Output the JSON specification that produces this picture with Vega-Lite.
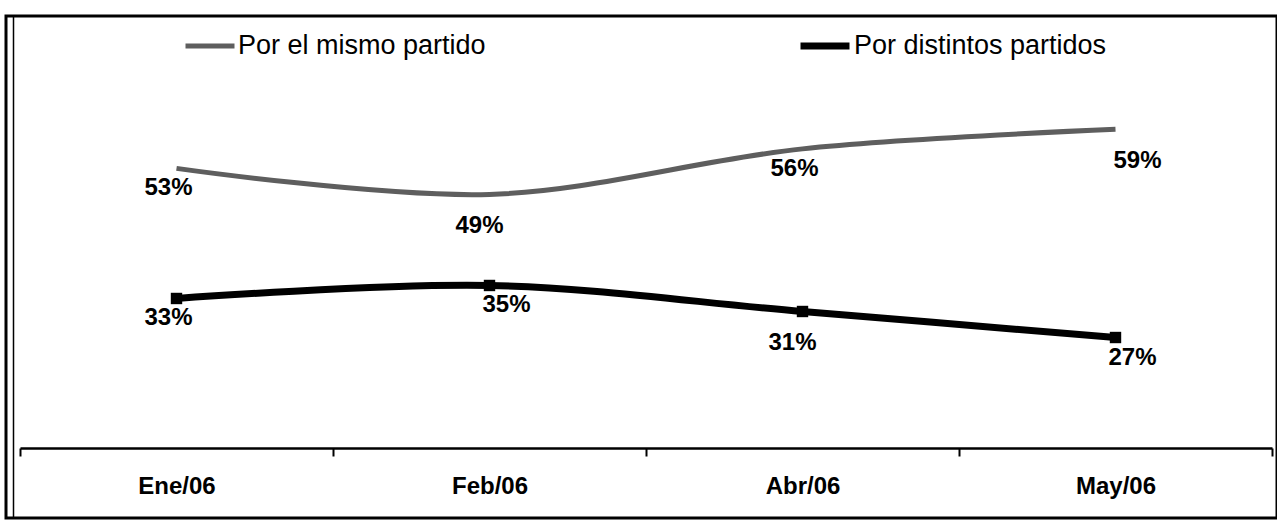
{
  "$schema": "https://vega.github.io/schema/vega-lite/v6.json",
  "width": 1271,
  "height": 502,
  "autosize": {"type": "none"},
  "padding": {"left": 6, "top": 16, "right": 0, "bottom": 3},
  "background": "white",
  "config": {
    "view": {"stroke": "black", "strokeWidth": 3},
    "font": "Liberation Sans"
  },
  "data": {
    "values": [
      {"month": "Ene/06", "series": "Por el mismo partido", "value": 0.53},
      {"month": "Feb/06", "series": "Por el mismo partido", "value": 0.49},
      {"month": "Abr/06", "series": "Por el mismo partido", "value": 0.56},
      {"month": "May/06", "series": "Por el mismo partido", "value": 0.59},
      {"month": "Ene/06", "series": "Por distintos partidos", "value": 0.33},
      {"month": "Feb/06", "series": "Por distintos partidos", "value": 0.35},
      {"month": "Abr/06", "series": "Por distintos partidos", "value": 0.31},
      {"month": "May/06", "series": "Por distintos partidos", "value": 0.27}
    ]
  },
  "encoding": {
    "x": {
      "field": "month",
      "type": "nominal",
      "sort": ["Ene/06", "Feb/06", "Abr/06", "May/06"],
      "scale": {"type": "band", "range": [14, 1266], "paddingInner": 0, "paddingOuter": 0},
      "axis": {
        "title": null,
        "labelAngle": 0,
        "labelFontSize": 24,
        "labelFontWeight": "bold",
        "labelColor": "black",
        "labelFont": "Liberation Sans",
        "labelPadding": 18,
        "domainColor": "black",
        "domainWidth": 2.5,
        "tickColor": "black",
        "tickWidth": 2,
        "tickSize": 8,
        "tickBand": "extent",
        "grid": false,
        "offset": -70
      }
    },
    "y": {
      "field": "value",
      "type": "quantitative",
      "scale": {"domain": [-0.0075, 0.7643], "nice": false, "zero": false},
      "axis": {
        "title": null,
        "labels": false,
        "ticks": false,
        "grid": false,
        "domain": true,
        "domainColor": "black",
        "domainWidth": 1.5,
        "offset": -7
      }
    }
  },
  "layer": [
    {
      "mark": {"type": "line", "interpolate": "catmull-rom"},
      "encoding": {
        "color": {
          "field": "series",
          "type": "nominal",
          "scale": {"domain": ["Por el mismo partido", "Por distintos partidos"], "range": ["#5e5e5e", "#000000"]},
          "legend": {
            "title": null,
            "orient": "none",
            "direction": "horizontal",
            "legendX": 177,
            "legendY": 2,
            "symbolType": "stroke",
            "symbolSize": 2400,
            "symbolStrokeWidth": 5,
            "labelFontSize": 27,
            "labelFont": "Liberation Sans",
            "labelColor": "black",
            "labelLimit": 0,
            "labelOffset": 1,
            "columnPadding": 300,
            "padding": 0
          }
        },
        "strokeWidth": {
          "field": "series",
          "type": "nominal",
          "scale": {"domain": ["Por el mismo partido", "Por distintos partidos"], "range": [5, 7]},
          "legend": null
        }
      }
    },
    {
      "transform": [{"filter": "datum.series === 'Por distintos partidos'"}],
      "mark": {"type": "point", "shape": "square", "filled": true, "color": "black", "size": 130, "opacity": 1}
    },
    {
      "transform": [{"filter": "(datum.month === 'Ene/06') || (datum.month === 'Abr/06' && datum.series === 'Por el mismo partido')"}],
      "mark": {"type": "text", "fontSize": 24, "fontWeight": "bold", "font": "Liberation Sans", "color": "black", "baseline": "middle", "align": "center", "dx": -8, "dy": 20},
      "encoding": {"text": {"field": "value", "type": "quantitative", "format": ".0%"}}
    },
    {
      "transform": [{"filter": "(datum.month === 'Feb/06' || datum.month === 'May/06') && datum.series === 'Por distintos partidos'"}],
      "mark": {"type": "text", "fontSize": 24, "fontWeight": "bold", "font": "Liberation Sans", "color": "black", "baseline": "middle", "align": "center", "dx": 17, "dy": 20},
      "encoding": {"text": {"field": "value", "type": "quantitative", "format": ".0%"}}
    },
    {
      "transform": [{"filter": "(datum.month === 'Feb/06' && datum.series === 'Por el mismo partido') || (datum.month === 'Abr/06' && datum.series === 'Por distintos partidos')"}],
      "mark": {"type": "text", "fontSize": 24, "fontWeight": "bold", "font": "Liberation Sans", "color": "black", "baseline": "middle", "align": "center", "dx": -10, "dy": 32},
      "encoding": {"text": {"field": "value", "type": "quantitative", "format": ".0%"}}
    },
    {
      "transform": [{"filter": "datum.month === 'May/06' && datum.series === 'Por el mismo partido'"}],
      "mark": {"type": "text", "fontSize": 24, "fontWeight": "bold", "font": "Liberation Sans", "color": "black", "baseline": "middle", "align": "center", "dx": 22, "dy": 32},
      "encoding": {"text": {"field": "value", "type": "quantitative", "format": ".0%"}}
    }
  ]
}
